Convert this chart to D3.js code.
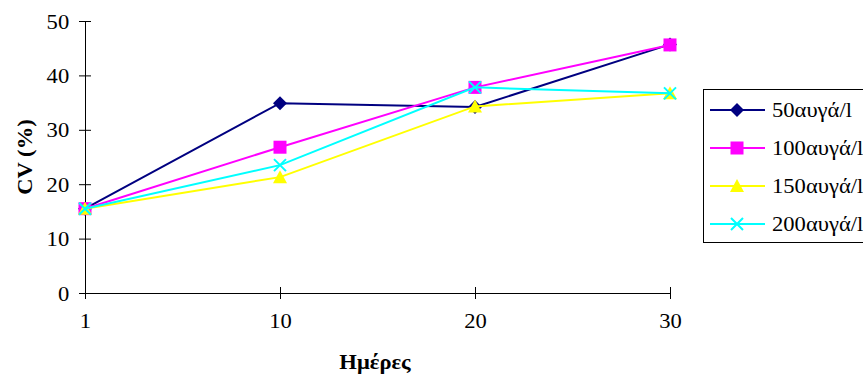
<!DOCTYPE html>
<html>
<head>
<meta charset="utf-8">
<script src="https://cdn.jsdelivr.net/npm/d3@7"></script>
<style>
  html, body { margin: 0; padding: 0; background: #fff; }
  svg { display: block; }
  svg text { font-family: "Liberation Serif", "Times New Roman", "DejaVu Serif", serif; font-size: 20px; fill: #000; }
</style>
</head>
<body>
<svg id="chart" width="863" height="377"></svg>
<script>
// Days of measurement
const days = ["1", "10", "20", "30"];
// Y tick values
const yTicks = [0, 10, 20, 30, 40, 50];
// Series names
const seriesNames = ["50αυγά/l", "100αυγά/l", "150αυγά/l", "200αυγά/l"];
// CV (%) per series, one value per day
const cv50 = [15.5, 34.9, 34.2, 45.7];
const cv100 = [15.5, 26.8, 37.8, 45.6];
const cv150 = [15.5, 21.3, 34.3, 36.7];
const cv200 = [15.5, 23.5, 37.8, 36.7];

const series = [
  { name: seriesNames[0], values: cv50, color: "#000080", shape: "diamond" },
  { name: seriesNames[1], values: cv100, color: "#FF00FF", shape: "square" },
  { name: seriesNames[2], values: cv150, color: "#FFFF00", shape: "triangle" },
  { name: seriesNames[3], values: cv200, color: "#00FFFF", shape: "cross" }
];

const svg = d3.select("#chart");
const plot = { left: 85, right: 670, top: 21, bottom: 293 };
const stretch = "scale(1.13,1)"; // slightly wide lettering

const x = d3.scalePoint().domain(days).range([plot.left, plot.right]);
const y = d3.scaleLinear().domain([0, 50]).range([plot.bottom, plot.top]);

// Draws one marker of the given shape centred on (cx, cy)
function marker(g, shape, color, cx, cy) {
  if (shape === "diamond") {
    g.append("path")
      .attr("d", `M${cx},${cy - 7}L${cx + 7},${cy}L${cx},${cy + 7}L${cx - 7},${cy}Z`)
      .attr("fill", color);
  } else if (shape === "square") {
    g.append("rect").attr("x", cx - 6.5).attr("y", cy - 6.5)
      .attr("width", 13).attr("height", 13).attr("fill", color);
  } else if (shape === "triangle") {
    g.append("path")
      .attr("d", `M${cx},${cy - 7}L${cx + 7},${cy + 6}L${cx - 7},${cy + 6}Z`)
      .attr("fill", color);
  } else if (shape === "cross") {
    g.append("path")
      .attr("d", `M${cx - 6},${cy - 6}L${cx + 6},${cy + 6}M${cx + 6},${cy - 6}L${cx - 6},${cy + 6}`)
      .attr("stroke", color).attr("stroke-width", 2).attr("fill", "none");
  }
}

// Axes (ticks cross the axis line on both sides)
const yAxis = d3.axisLeft(y).tickValues(yTicks).tickSizeInner(6).tickSizeOuter(0).tickPadding(8);
const gy = svg.append("g").attr("transform", `translate(${plot.left},0)`).call(yAxis);
gy.attr("font-family", null).attr("font-size", null);
gy.selectAll(".tick line").attr("x1", -6).attr("x2", 6).attr("stroke", "#000");
gy.select(".domain").attr("stroke", "#000");
gy.selectAll("text").attr("dy", "0.35em").attr("transform", stretch);

const xAxis = d3.axisBottom(x).tickSizeInner(6).tickSizeOuter(0).tickPadding(15);
const gx = svg.append("g").attr("transform", `translate(0,${plot.bottom})`).call(xAxis);
gx.attr("font-family", null).attr("font-size", null);
gx.selectAll(".tick line").attr("y1", -6).attr("y2", 6).attr("stroke", "#000");
gx.select(".domain").attr("stroke", "#000");
gx.selectAll("text").attr("transform", stretch);

// Axis titles
svg.append("text")
  .attr("transform", `translate(25,${(plot.top + plot.bottom) / 2}) rotate(-90) ${stretch}`)
  .attr("text-anchor", "middle").attr("dy", "0.35em").attr("font-weight", "bold")
  .text("CV (%)");
svg.append("text")
  .attr("transform", `translate(375,369) ${stretch}`)
  .attr("text-anchor", "middle").attr("font-weight", "bold")
  .text("Ημέρες");

// Series lines and markers
const line = d3.line().x((d, i) => x(days[i])).y(d => y(d));
series.forEach(s => {
  const g = svg.append("g");
  g.append("path").attr("d", line(s.values))
    .attr("fill", "none").attr("stroke", s.color).attr("stroke-width", 2);
  s.values.forEach((v, i) => marker(g, s.shape, s.color, x(days[i]), y(v)));
});

// Legend
const legend = svg.append("g");
legend.append("rect").attr("x", 703.5).attr("y", 89.5).attr("width", 180).attr("height", 153)
  .attr("fill", "#fff").attr("stroke", "#000").attr("stroke-width", 1);
series.forEach((s, i) => {
  const ly = 110 + i * 38;
  legend.append("line").attr("x1", 710).attr("x2", 765).attr("y1", ly).attr("y2", ly)
    .attr("stroke", s.color).attr("stroke-width", 2);
  marker(legend, s.shape, s.color, 737, ly);
  legend.append("text").attr("transform", `translate(772,${ly}) ${stretch}`).attr("dy", "0.35em")
    .text(s.name);
});
</script>
</body>
</html>
